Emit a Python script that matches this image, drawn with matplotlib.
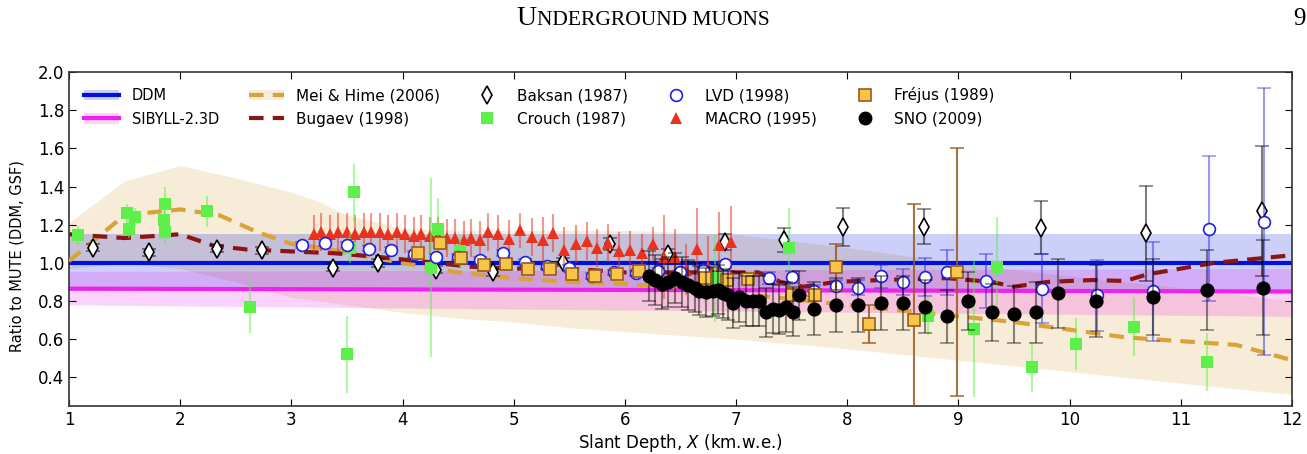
import numpy as np
import matplotlib
matplotlib.use("Agg")
import matplotlib.pyplot as plt
from matplotlib.colors import to_rgba
from matplotlib.lines import Line2D
from matplotlib.patches import Patch

# ---------------- model curves ----------------
ddm_x = [1, 12]
ddm_y = [1.0, 1.0]
ddm_lo = [0.85, 0.85]
ddm_hi = [1.15, 1.15]

sib_x = [1, 12]
sib_y = [0.865, 0.85]
sib_lo = [0.78, 0.72]
sib_hi = [0.955, 0.97]

mei_x = [1, 1.5, 2, 2.35, 2.7, 3, 3.35, 3.7, 4, 4.5, 5, 5.5, 6, 6.5, 7, 7.5, 8,
         8.5, 9, 9.5, 10, 10.5, 11, 11.5, 12]
mei_y = [1.01, 1.25, 1.28, 1.25, 1.16, 1.10, 1.07, 1.03, 1.0, 0.95, 0.92, 0.90,
         0.89, 0.87, 0.84, 0.81, 0.78, 0.75, 0.72, 0.69, 0.65, 0.61, 0.59, 0.57, 0.49]

mei_band_x = [1, 1.5, 2, 2.5, 3, 3.25, 3.5, 4, 4.5, 5, 5.5, 6, 7, 8, 9, 10, 11, 12]
mei_band_lo = [0.97, 1.0, 0.97, 0.9, 0.82, 0.8, 0.78, 0.74, 0.71, 0.69, 0.66, 0.64,
               0.6, 0.55, 0.49, 0.43, 0.37, 0.31]
mei_band_hi = [1.21, 1.43, 1.51, 1.445, 1.37, 1.32, 1.25, 1.18, 1.17, 1.17, 1.17,
               1.17, 1.15, 1.08, 1.0, 0.93, 0.87, 0.8]

bug_x = [1, 1.5, 2, 2.3, 2.6, 3, 3.4, 3.8, 4.3, 4.6, 5, 5.5, 6, 6.5, 7, 7.2, 7.4,
         7.6, 7.9, 8.3, 8.9, 9.3, 9.5, 9.8, 10.2, 10.5, 10.7, 11.3, 12]
bug_y = [1.15, 1.13, 1.15, 1.09, 1.07, 1.06, 1.05, 1.03, 1.0, 0.98, 0.97, 0.97,
         0.95, 0.95, 0.95, 0.95, 0.90, 0.875, 0.90, 0.91, 0.92, 0.90, 0.875, 0.90,
         0.91, 0.905, 0.94, 1.0, 1.04]

# ---------------- measurements ----------------
baksan_x = [1.22, 1.72, 2.33, 2.74, 3.37, 3.78, 4.30, 4.81, 5.44, 5.87, 6.39, 6.90,
            7.43, 7.96, 8.69, 9.74, 10.69, 11.73]
baksan_y = [1.08, 1.055, 1.075, 1.065, 0.975, 1.0, 0.965, 0.95, 1.005, 1.10, 1.045,
            1.11, 1.12, 1.19, 1.19, 1.185, 1.155, 1.27]
baksan_err = [0.02, 0.02, 0.02, 0.02, 0.02, 0.02, 0.02, 0.02, 0.02, 0.03, 0.03,
              0.04, 0.065, 0.1, 0.09, 0.14, 0.25, 0.34]

crouch_x = [1.08, 1.52, 1.54, 1.59, 1.85, 1.86, 1.86, 2.24, 2.63, 3.50, 3.53, 3.56,
            4.26, 4.32, 4.52, 6.81, 7.48, 8.73, 9.14, 9.35, 9.66, 10.06, 10.58, 11.24]
crouch_y = [1.145, 1.26, 1.18, 1.24, 1.225, 1.31, 1.16, 1.27, 0.77, 0.52, 1.08, 1.37,
            0.975, 1.18, 1.06, 0.92, 1.08, 0.72, 0.655, 0.98, 0.455, 0.575, 0.665, 0.48]
crouch_err = [0.05, 0.05, 0.05, 0.05, 0.06, 0.09, 0.06, 0.08, 0.14, 0.2, 0.08, 0.15,
              0.47, 0.16, 0.08, 0.23, 0.21, 0.1, 0.36, 0.26, 0.13, 0.135, 0.155, 0.15]

lvd_x = [3.1, 3.3, 3.5, 3.7, 3.9, 4.1, 4.3, 4.5, 4.7, 4.9, 5.1, 5.3, 5.5, 5.7, 5.9,
         6.1, 6.3, 6.5, 6.7, 6.9, 7.3, 7.5, 7.7, 7.9, 8.1, 8.3, 8.5, 8.7, 8.9, 9.25,
         9.75, 10.25, 10.75, 11.25, 11.75]
lvd_y = [1.095, 1.105, 1.095, 1.075, 1.07, 1.045, 1.03, 1.03, 1.015, 1.05, 1.005,
         0.985, 0.975, 0.93, 0.95, 0.945, 0.96, 0.95, 0.965, 0.995, 0.92, 0.925,
         0.855, 0.88, 0.87, 0.93, 0.90, 0.925, 0.95, 0.905, 0.865, 0.83, 0.85, 1.18, 1.215]
lvd_err = [0.015, 0.015, 0.015, 0.015, 0.015, 0.015, 0.015, 0.015, 0.015, 0.015,
           0.015, 0.015, 0.015, 0.015, 0.015, 0.015, 0.015, 0.015, 0.015, 0.015,
           0.03, 0.03, 0.03, 0.03, 0.04, 0.06, 0.07, 0.1, 0.12, 0.14, 0.18, 0.185,
           0.26, 0.38, 0.7]

macro_x = [3.2, 3.27, 3.35, 3.42, 3.5, 3.57, 3.65, 3.72, 3.8, 3.87, 3.95, 4.02, 4.1,
           4.17, 4.25, 4.32, 4.4, 4.47, 4.55, 4.62, 4.7, 4.77, 4.86, 4.96, 5.06, 5.16,
           5.26, 5.35, 5.45, 5.56, 5.66, 5.75, 5.85, 5.95, 6.05, 6.15, 6.25, 6.35,
           6.45, 6.55, 6.65, 6.75, 6.85, 6.95]
macro_y = [1.15, 1.16, 1.15, 1.16, 1.16, 1.15, 1.16, 1.16, 1.16, 1.15, 1.16, 1.15,
           1.14, 1.15, 1.14, 1.14, 1.13, 1.13, 1.12, 1.13, 1.12, 1.16, 1.15, 1.125,
           1.17, 1.135, 1.12, 1.155, 1.07, 1.10, 1.115, 1.08, 1.105, 1.06, 1.065,
           1.05, 1.10, 1.03, 1.03, 0.965, 1.075, 0.98, 1.095, 1.11]
macro_err = [0.1, 0.1, 0.1, 0.1, 0.1, 0.1, 0.1, 0.1, 0.1, 0.1, 0.1, 0.1, 0.1, 0.1,
             0.1, 0.1, 0.1, 0.1, 0.1, 0.1, 0.1, 0.1, 0.1, 0.1, 0.09, 0.1, 0.12, 0.1,
             0.12, 0.1, 0.1, 0.1, 0.1, 0.1, 0.1, 0.1, 0.09, 0.22, 0.15, 0.135, 0.21,
             0.16, 0.17, 0.19]

frejus_x = [4.14, 4.34, 4.53, 4.73, 4.93, 5.13, 5.33, 5.52, 5.73, 5.93, 6.13, 6.72,
            6.92, 7.11, 7.50, 7.71, 7.90, 8.20, 8.60, 8.99]
frejus_y = [1.05, 1.105, 1.025, 0.99, 0.995, 0.97, 0.97, 0.94, 0.93, 0.94, 0.955,
            0.92, 0.91, 0.915, 0.83, 0.83, 0.98, 0.68, 0.70, 0.95]
frejus_err = [0.02, 0.02, 0.02, 0.02, 0.02, 0.02, 0.02, 0.02, 0.02, 0.02, 0.02,
              0.02, 0.02, 0.02, 0.03, 0.03, 0.12, 0.1, 0.61, 0.65]

sno_x = [6.22, 6.27, 6.33, 6.39, 6.45, 6.51, 6.57, 6.63, 6.67, 6.73, 6.79, 6.84,
         6.88, 6.93, 6.97, 7.03, 7.09, 7.15, 7.21, 7.27, 7.33, 7.39, 7.45, 7.51,
         7.57, 7.70, 7.90, 8.10, 8.30, 8.50, 8.70, 8.90, 9.09, 9.30, 9.50, 9.70,
         9.90, 10.24, 10.75, 11.24, 11.74]
sno_y = [0.93, 0.91, 0.89, 0.90, 0.92, 0.90, 0.885, 0.87, 0.855, 0.845, 0.85, 0.86,
         0.84, 0.83, 0.79, 0.82, 0.80, 0.80, 0.80, 0.74, 0.76, 0.755, 0.77, 0.745,
         0.83, 0.76, 0.78, 0.78, 0.79, 0.79, 0.77, 0.72, 0.80, 0.74, 0.73, 0.74,
         0.84, 0.80, 0.82, 0.86, 0.87]
sno_err = [0.13, 0.13, 0.13, 0.13, 0.13, 0.13, 0.13, 0.13, 0.13, 0.13, 0.13, 0.13,
           0.13, 0.13, 0.13, 0.13, 0.13, 0.13, 0.13, 0.13, 0.13, 0.13, 0.13, 0.13,
           0.13, 0.14, 0.14, 0.14, 0.14, 0.14, 0.14, 0.14, 0.15, 0.15, 0.15, 0.16,
           0.18, 0.19, 0.2, 0.21, 0.25]

# ---------------- colours ----------------
c_ddm = "#0010dd"
c_sib = "#ee22ee"
c_mei = "#d9a33a"
c_bug = "#8b1515"
c_crouch = "#5ef04a"
c_macro = "#e8321e"
c_lvd = "#2020dd"
c_frejus = "#f7c548"
c_frejus_e = "#9a5a20"

fig = plt.figure(figsize=(13.07, 4.54), dpi=100)
ax = fig.add_axes([0.0528, 0.1057, 0.9357, 0.7357])

# bands
ax.fill_between(mei_band_x, mei_band_lo, mei_band_hi, color=c_mei, alpha=0.2, lw=0, zorder=1)
ax.fill_between(ddm_x, ddm_lo, ddm_hi, color=c_ddm, alpha=0.2, lw=0, zorder=1)
ax.fill_between(sib_x, sib_lo, sib_hi, color=c_sib, alpha=0.2, lw=0, zorder=1)

ax.plot(ddm_x, ddm_y, color=c_ddm, lw=3, zorder=2)
ax.plot(sib_x, sib_y, color=c_sib, lw=3, zorder=2)
ax.plot(mei_x, mei_y, color=c_mei, lw=3, dashes=(3.5, 2.2), zorder=3)
ax.plot(bug_x, bug_y, color=c_bug, lw=3, dashes=(3.5, 2.2), zorder=3)


def points(x, y, err, marker, ms, fc, ec, ecol, ealpha, z, mew=1.2):
    ax.errorbar(x, y, yerr=err, fmt=marker, ms=ms, mfc=fc, mec=ec, mew=mew,
                ecolor=to_rgba(ecol, ealpha), elinewidth=1.5, capsize=5,
                capthick=1.3, zorder=z)


ms_d, ms_s, ms_t, ms_o, ms_sno = 9, 8, 8.5, 8.5, 9

points(baksan_x, baksan_y, baksan_err, "d", ms_d, "white", "black", "black", 0.5, 4)
points(macro_x, macro_y, macro_err, "^", ms_t, c_macro, c_macro, c_macro, 0.5, 5, mew=0)
points(crouch_x, crouch_y, crouch_err, "s", ms_s, c_crouch, c_crouch, c_crouch, 0.5, 6, mew=0)
points(lvd_x, lvd_y, lvd_err, "o", ms_o, "white", c_lvd, c_lvd, 0.45, 7)
points(frejus_x, frejus_y, frejus_err, "s", ms_s, c_frejus, c_frejus_e, c_frejus_e, 0.85, 8)
points(sno_x, sno_y, sno_err, "o", ms_sno, "black", "black", "black", 0.45, 9)

ax.set_xlim(1, 12)
ax.set_ylim(0.25, 2.0)
ax.set_xticks(range(1, 13))
ax.set_yticks([0.4, 0.6, 0.8, 1.0, 1.2, 1.4, 1.6, 1.8, 2.0])
ax.set_yticklabels(["0.4", "0.6", "0.8", "1.0", "1.2", "1.4", "1.6", "1.8", "2.0"])
ax.tick_params(direction="in", top=True, right=True, labelsize=12, length=5)
for s in ax.spines.values():
    s.set_color("#333333")
    s.set_linewidth(1.2)

ax.set_xlabel("Slant Depth, $X$ (km.w.e.)", fontsize=12, labelpad=2)
ax.set_ylabel("Ratio to MUTE (DDM, GSF)", fontsize=10.5)
ax.yaxis.set_label_coords(-0.036, 0.45)

# legend
handles = [
    (Patch(facecolor=c_ddm, alpha=0.2, lw=0), Line2D([], [], color=c_ddm, lw=3)),
    (Patch(facecolor=c_sib, alpha=0.2, lw=0), Line2D([], [], color=c_sib, lw=3)),
    (Patch(facecolor=c_mei, alpha=0.2, lw=0), Line2D([], [], color=c_mei, lw=3, dashes=(3.5, 2.2))),
    Line2D([], [], color=c_bug, lw=3, dashes=(3.5, 2.2)),
    Line2D([], [], ls="none", marker="d", ms=ms_d, mfc="white", mec="black", mew=1.2),
    Line2D([], [], ls="none", marker="s", ms=ms_s, mfc=c_crouch, mec=c_crouch, mew=0),
    Line2D([], [], ls="none", marker="o", ms=ms_o, mfc="white", mec=c_lvd, mew=1.2),
    Line2D([], [], ls="none", marker="^", ms=ms_t, mfc=c_macro, mec=c_macro, mew=0),
    Line2D([], [], ls="none", marker="s", ms=ms_s, mfc=c_frejus, mec=c_frejus_e, mew=1.2),
    Line2D([], [], ls="none", marker="o", ms=ms_sno, mfc="black", mec="black"),
]
labels = ["DDM", "SIBYLL-2.3D", "Mei & Hime (2006)", "Bugaev (1998)",
          "Baksan (1987)", "Crouch (1987)", "LVD (1998)", "MACRO (1995)",
          "Fréjus (1989)", "SNO (2009)"]
leg = ax.legend(handles, labels, ncol=5, loc="upper left", bbox_to_anchor=(0.0, 1.0),
                frameon=False, fontsize=11, handlelength=2.3, handletextpad=0.8,
                columnspacing=1.95, labelspacing=0.55, borderaxespad=0.6)
leg.get_texts()[0].set_fontsize(10.5)
leg.get_texts()[1].set_fontsize(10.5)

# page header
fig.text(0.4105, 0.945, "U", family="Liberation Serif", fontsize=20, ha="right", va="baseline")
fig.text(0.4105, 0.945, "NDERGROUND MUONS", family="Liberation Serif", fontsize=15.5,
         ha="left", va="baseline")
fig.text(0.9895, 0.945, "9", family="Liberation Serif", fontsize=18, ha="left", va="baseline")

fig.savefig("out.png", dpi=100)
